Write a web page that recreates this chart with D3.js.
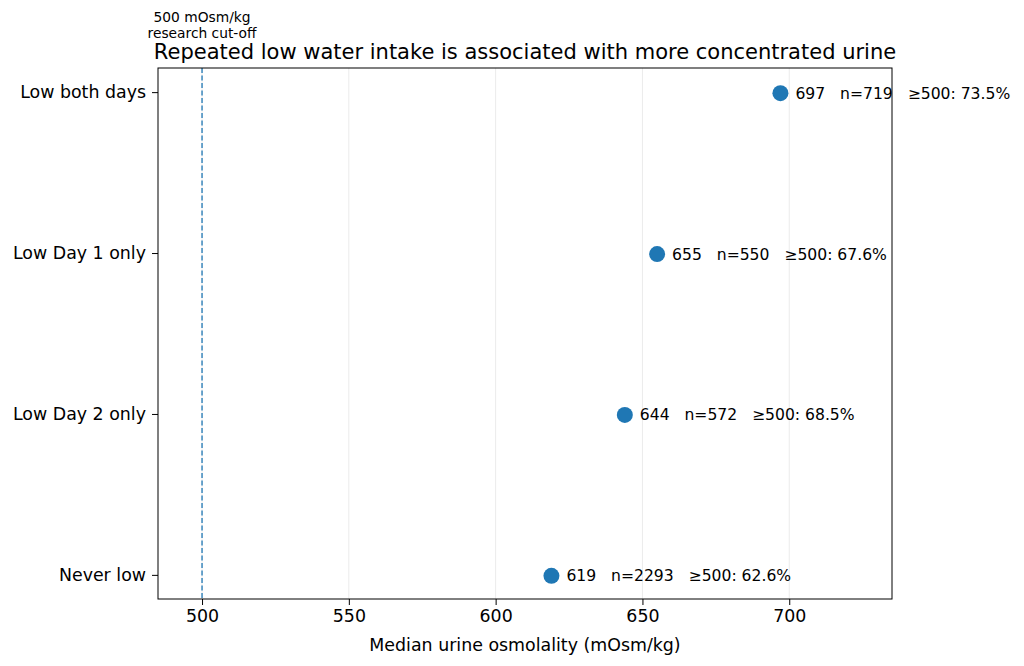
<!DOCTYPE html>
<html>
<head>
<meta charset="utf-8">
<script src="https://cdn.jsdelivr.net/npm/d3@7"></script>
<style>
  body { margin: 0; background: #fff; }
  svg { font-family: "DejaVu Sans", sans-serif; }
</style>
</head>
<body>
<div id="chart"></div>
<script>
const width = 1024;
const height = 666;
const margin = { top: 68, right: 132, bottom: 67, left: 158 };

// Data
const groups = ["Never low", "Low Day 2 only", "Low Day 1 only", "Low both days"];
const medians = [619, 644, 655, 697];
const counts = [2293, 572, 550, 719];
const pctAbove = [62.6, 68.5, 67.6, 73.5];
const xTicks = [500, 550, 600, 650, 700];
const cutoff = 500;

const innerW = width - margin.left - margin.right;
const innerH = height - margin.top - margin.bottom;

const svg = d3.select("#chart")
    .append("svg")
    .attr("width", width)
    .attr("height", height);

const g = svg.append("g")
    .attr("transform", `translate(${margin.left},${margin.top})`);

const x = d3.scaleLinear()
    .domain([485, 735])
    .range([0, innerW]);

const y = d3.scaleLinear()
    .domain([-0.15, 3.15])
    .range([innerH, 0]);

// Vertical grid
g.selectAll(".grid")
    .data(xTicks)
  .enter().append("line")
    .attr("class", "grid")
    .attr("x1", d => x(d))
    .attr("x2", d => x(d))
    .attr("y1", 0)
    .attr("y2", innerH)
    .attr("stroke", "#ebebeb")
    .attr("stroke-width", 1);

// Cut-off line
g.append("line")
    .attr("x1", x(cutoff))
    .attr("x2", x(cutoff))
    .attr("y1", 0)
    .attr("y2", innerH)
    .attr("stroke", "#1f77b4")
    .attr("stroke-width", 1.3)
    .attr("stroke-dasharray", "5,2.5");

// X axis
const xAxis = g.append("g")
    .attr("transform", `translate(0,${innerH})`)
    .call(d3.axisBottom(x).tickValues(xTicks).tickSize(6).tickPadding(5).tickFormat(d3.format("d")));
xAxis.select(".domain").remove();
xAxis.selectAll("text").style("font-size", "17.4px").attr("fill", "#000").style("font-family", "DejaVu Sans");
xAxis.selectAll("line").attr("stroke", "#000");

// Y axis
const yAxis = g.append("g")
    .call(d3.axisLeft(y).tickValues(d3.range(groups.length)).tickFormat(i => groups[i]).tickSize(6).tickPadding(6));
yAxis.select(".domain").remove();
yAxis.selectAll("text").style("font-size", "17.4px").attr("fill", "#000").style("font-family", "DejaVu Sans");
yAxis.selectAll("line").attr("stroke", "#000");

// Frame
g.append("rect")
    .attr("width", innerW)
    .attr("height", innerH)
    .attr("fill", "none")
    .attr("stroke", "#000")
    .attr("stroke-width", 1);

// Points
g.selectAll(".dot")
    .data(groups)
  .enter().append("circle")
    .attr("class", "dot")
    .attr("cx", (d, i) => x(medians[i]))
    .attr("cy", (d, i) => y(i) + 1)
    .attr("r", 8)
    .attr("fill", "#1f77b4");

// Point labels
g.selectAll(".lbl")
    .data(groups)
  .enter().append("text")
    .attr("class", "lbl")
    .attr("x", (d, i) => x(medians[i]) + 15)
    .attr("y", (d, i) => y(i) + 1)
    .attr("dy", "0.35em")
    .style("font-size", "15.6px")
    .style("white-space", "pre")
    .text((d, i) => `${medians[i]}   n=${counts[i]}   ≥500: ${pctAbove[i].toFixed(1)}%`);

// Title
svg.append("text")
    .attr("x", margin.left + innerW / 2)
    .attr("y", 59)
    .attr("text-anchor", "middle")
    .style("font-size", "21px")
    .text("Repeated low water intake is associated with more concentrated urine");

// Cut-off annotation
const ann = svg.append("text")
    .attr("x", margin.left + x(cutoff))
    .attr("y", 22)
    .attr("text-anchor", "middle")
    .style("font-size", "13.8px");
ann.append("tspan").attr("x", margin.left + x(cutoff)).text("500 mOsm/kg");
ann.append("tspan").attr("x", margin.left + x(cutoff)).attr("dy", 16).text("research cut-off");

// X label
svg.append("text")
    .attr("x", margin.left + innerW / 2)
    .attr("y", 651)
    .attr("text-anchor", "middle")
    .style("font-size", "17.4px")
    .text("Median urine osmolality (mOsm/kg)");
</script>
</body>
</html>
